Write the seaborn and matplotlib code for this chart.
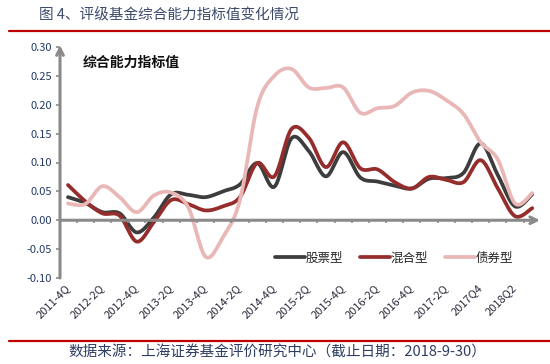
# -*- coding: utf-8 -*-
"""
Rated fund composite ability index over time
"""

###############################################################################

### 1. Imports

import numpy as np
import seaborn as sns
import matplotlib.pyplot as plt
from matplotlib.lines import Line2D
from matplotlib.ticker import FormatStrFormatter

sns.set_theme(style='white')
plt.rcParams['font.family'] = ['Noto Sans CJK SC', 'DejaVu Sans']
plt.rcParams['axes.unicode_minus'] = False

###############################################################################

### 2. Data

quarters = ['2011-4Q', '2012-1Q', '2012-2Q', '2012-3Q', '2012-4Q', '2013-1Q', '2013-2Q',
            '2013-3Q', '2013-4Q', '2014-1Q', '2014-2Q', '2014-3Q', '2014-4Q', '2015-1Q',
            '2015-2Q', '2015-3Q', '2015-4Q', '2016-1Q', '2016-2Q', '2016-3Q', '2016-4Q',
            '2017-1Q', '2017-2Q', '2017Q3', '2017Q4', '2018Q1', '2018Q2', '2018Q3']

stock = [0.040, 0.030, 0.014, 0.012, -0.021, 0.005, 0.045, 0.044, 0.040, 0.050,
         0.062, 0.099, 0.058, 0.142, 0.120, 0.076, 0.118, 0.074, 0.067, 0.060,
         0.055, 0.072, 0.073, 0.082, 0.133, 0.078, 0.024, 0.045]

hybrid = [0.061, 0.033, 0.012, 0.008, -0.037, -0.003, 0.035, 0.028, 0.017, 0.024,
          0.040, 0.099, 0.076, 0.158, 0.143, 0.092, 0.135, 0.090, 0.088, 0.066,
          0.055, 0.075, 0.070, 0.066, 0.104, 0.055, 0.007, 0.021]

bond = [0.029, 0.028, 0.059, 0.040, 0.014, 0.043, 0.048, 0.022, -0.063, -0.030,
        0.035, 0.196, 0.250, 0.262, 0.230, 0.229, 0.230, 0.186, 0.194, 0.198,
        0.221, 0.224, 0.208, 0.184, 0.135, 0.105, 0.029, 0.047]

series_names = ['股票型', '混合型', '债券型']
series_colors = ['#3d3d3d', '#952d2d', '#e8b7b6']

###############################################################################

### 3. Functions

def smooth(vals, steps=20):
    # excel-like smoothed line (catmull-rom as bezier segments)
    x = np.arange(len(vals), dtype=float)
    y = np.asarray(vals, dtype=float)
    px = np.concatenate([[x[0]], x, [x[-1]]])
    py = np.concatenate([[y[0]], y, [y[-1]]])
    xs, ys = [], []
    t = np.linspace(0, 1, steps, endpoint=False)
    for i in range(1, len(px) - 2):
        p0 = np.array([px[i], py[i]])
        p3 = np.array([px[i + 1], py[i + 1]])
        p1 = p0 + (p3 - np.array([px[i - 1], py[i - 1]])) / 6
        p2 = p3 - (np.array([px[i + 2], py[i + 2]]) - p0) / 6
        pts = ((1 - t)[:, None] ** 3 * p0 + 3 * ((1 - t) ** 2 * t)[:, None] * p1
               + 3 * ((1 - t) * t ** 2)[:, None] * p2 + (t ** 3)[:, None] * p3)
        xs.extend(pts[:, 0])
        ys.extend(pts[:, 1])
    xs.append(x[-1])
    ys.append(y[-1])
    return np.array(xs), np.array(ys)


def visualization():
    fig = plt.figure(figsize=(5.5, 3.64), dpi=100)
    ax = fig.add_axes([60 / 550, 1 - 278 / 364, 480 / 550, 231 / 364])

    x_left, x_right = -0.465, 27.45
    axis_grey = '#8a8a8a'
    navy = '#243a63'

    for vals, name, col in zip([stock, hybrid, bond], series_names, series_colors):
        xs, ys = smooth(vals)
        sns.lineplot(x=xs, y=ys, ax=ax, color=col, lw=2.7, label=name,
                     sort=False, estimator=None)

    ax.set_xlim(x_left, x_right)
    ax.set_ylim(-0.10, 0.30)
    for s in ax.spines.values():
        s.set_visible(False)

    # axes with arrows
    ax.annotate('', xy=(x_left, 0.303), xytext=(x_left, -0.10),
                arrowprops=dict(arrowstyle='->', color=axis_grey, lw=2.2,
                                shrinkA=0, shrinkB=0), annotation_clip=False)
    ax.annotate('', xy=(x_right, 0), xytext=(x_left, 0),
                arrowprops=dict(arrowstyle='->', color=axis_grey, lw=2.2,
                                shrinkA=0, shrinkB=0), annotation_clip=False)
    ax.vlines(np.arange(len(quarters) - 1) + 0.5, -0.005, 0, color=axis_grey, lw=1.2)

    # ticks
    ax.set_yticks(np.arange(-0.10, 0.301, 0.05))
    ax.yaxis.set_major_formatter(FormatStrFormatter('%.2f'))
    ax.tick_params(axis='y', left=True, length=3, width=1.2, color=axis_grey,
                   labelsize=8, labelcolor=navy, pad=3)
    ax.set_xticks(range(0, len(quarters) - 1, 2))
    ax.set_xticklabels(quarters[0:len(quarters) - 1:2], rotation=45, ha='right',
                       rotation_mode='anchor', va='center')
    ax.tick_params(axis='x', length=0, labelsize=8, labelcolor='#2a2a3a', pad=6)

    ax.text(83 / 550, 1 - 63 / 364, '综合能力指标值', transform=fig.transFigure,
            fontsize=10, fontweight='bold', color='#111111', va='center')

    ax.legend(loc='center', bbox_to_anchor=(394 / 550, 1 - 258 / 364),
              bbox_transform=fig.transFigure, ncol=3, frameon=False, fontsize=9,
              handlelength=2.4, handletextpad=0.1, columnspacing=1.3)

    # header / footer
    fig.text(39 / 550, 1 - 15 / 364, '图 4、评级基金综合能力指标值变化情况',
             fontsize=10.5, color='#3c4a6c', va='center')
    fig.add_artist(Line2D([9 / 550, 1.0], [1 - 31 / 364] * 2, color='#c00000', lw=1.6))
    fig.add_artist(Line2D([9 / 550, 1.0], [1 - 341 / 364] * 2, color='#c00000', lw=1.6))
    fig.text(68 / 550, 1 - 353 / 364,
             '数据来源：上海证券基金评价研究中心（截止日期：2018-9-30）',
             fontsize=10.5, color='#2e3d63', va='center')

    fig.savefig('out.png', dpi=100, facecolor='white')


if __name__ == '__main__':
    visualization()
